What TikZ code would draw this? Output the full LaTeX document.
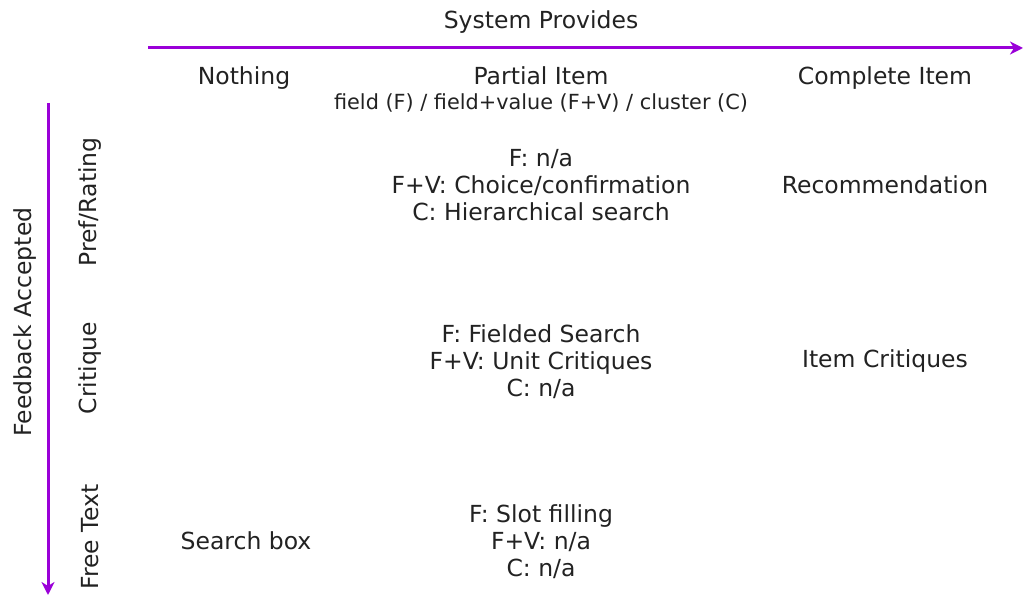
\documentclass[tikz,border=0pt]{standalone}
\usepackage{fontspec}
\setmainfont{DejaVu Sans}
\usetikzlibrary{arrows.meta}
\definecolor{axis}{HTML}{9A00D8}
\definecolor{txt}{HTML}{222222}
\begin{document}
\begin{tikzpicture}[x=1pt,y=-1pt,
  lbl/.style={text=txt,inner sep=0pt,font=\fontsize{23.5}{27.3}\selectfont,align=center},
  small/.style={text=txt,inner sep=0pt,font=\fontsize{20.8}{24}\selectfont},
  axisline/.style={draw=axis,line width=3pt,-{Stealth[length=13pt,width=13pt,inset=4pt]}}]
\useasboundingbox (0,0) rectangle (1023,596);
% axes
\coordinate (hs) at (148,48);
\coordinate (he) at (1023,48);
\coordinate (vs) at (48,103);
\coordinate (ve) at (48,595);
\draw[axisline] (hs) -- (he);
\draw[axisline] (vs) -- (ve);
\node[lbl,anchor=base] (sys) at (541,29) {System Provides};
\node[lbl,rotate=90] (fb) at (25,322) {Feedback Accepted};
% column headers
\node[lbl,anchor=base] (c1) at (244,85) {Nothing};
\node[lbl,anchor=base] (c2) at (541,85) {Partial Item};
\node[small] (c2s) at (541,103) {field (F) / field+value (F+V) / cluster (C)};
\node[lbl,anchor=base] (c3) at (885,85) {Complete Item};
% row headers
\node[lbl,rotate=90] (r1) at (90,202) {Pref/Rating};
\node[lbl,rotate=90] (r2) at (90,368) {Critique};
\node[lbl,rotate=90] (r3) at (90,537) {Free Text};
% cells
\node[lbl] (p1) at (541,185) {F: n/a\\F+V: Choice/confirmation\\C: Hierarchical search};
\node[lbl] (k1) at (885,185) {Recommendation};
\node[lbl] (p2) at (541,361.5) {F: Fielded Search\\F+V: Unit Critiques\\C: n/a};
\node[lbl] (k2) at (885,361.5) {Item Critiques};
\node[lbl] (n3) at (246,541) {Search box};
\node[lbl] (p3) at (541,541.5) {F: Slot filling\\F+V: n/a\\C: n/a};
\end{tikzpicture}
\end{document}
